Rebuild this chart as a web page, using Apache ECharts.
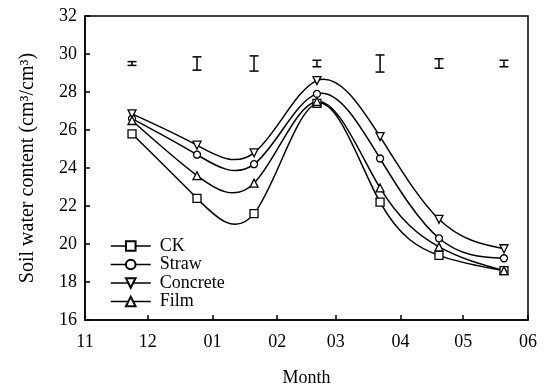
<!DOCTYPE html>
<html>
<head>
<meta charset="utf-8">
<script src="https://cdn.jsdelivr.net/npm/echarts@6/dist/echarts.min.js"></script>
<style>html,body{margin:0;padding:0;background:#fff;}#c{width:547px;height:392px;}</style>
</head>
<body>
<div id="c"></div>
<script>
// Days counted from 1 November
var sampleDays = [22.5, 53.6, 80.9, 111.0, 141.2, 169.4, 200.5];
var monthTickDays = [0, 30, 61, 92, 120, 151, 181, 212];
var monthLabels = ['11', '12', '01', '02', '03', '04', '05', '06'];

var ck       = [25.8, 22.4, 21.6, 27.4, 22.2, 19.4, 18.6];
var straw    = [26.6, 24.7, 24.2, 27.9, 24.5, 20.3, 19.25];
var concrete = [26.85, 25.2, 24.8, 28.6, 25.65, 21.3, 19.75];
var film     = [26.5, 23.6, 23.2, 27.5, 22.95, 19.85, 18.6];

var errMean = [29.5, 29.5, 29.5, 29.5, 29.5, 29.5, 29.5];
var errHalf = [0.1, 0.35, 0.4, 0.17, 0.45, 0.25, 0.17];

var FONT = '"Liberation Serif", "Times New Roman", serif';

function pairs(vals) {
  return vals.map(function (v, i) { return [sampleDays[i], v]; });
}

// natural cubic spline slopes (data units) at each knot
function splineSlopes(xs, ys) {
  var n = xs.length, h = [], i;
  for (i = 0; i < n - 1; i++) h.push(xs[i + 1] - xs[i]);
  var a = [], b = [], c = [], d = [];
  for (i = 0; i < n; i++) {
    if (i === 0 || i === n - 1) { a.push(0); b.push(1); c.push(0); d.push(0); }
    else {
      a.push(h[i - 1]); b.push(2 * (h[i - 1] + h[i])); c.push(h[i]);
      d.push(6 * ((ys[i + 1] - ys[i]) / h[i] - (ys[i] - ys[i - 1]) / h[i - 1]));
    }
  }
  for (i = 1; i < n; i++) {
    var w = a[i] / b[i - 1];
    b[i] -= w * c[i - 1];
    d[i] -= w * d[i - 1];
  }
  var M = new Array(n);
  M[n - 1] = d[n - 1] / b[n - 1];
  for (i = n - 2; i >= 0; i--) M[i] = (d[i] - c[i] * M[i + 1]) / b[i];
  var m = [];
  for (i = 0; i < n - 1; i++) m.push((ys[i + 1] - ys[i]) / h[i] - h[i] * (2 * M[i] + M[i + 1]) / 6);
  m.push((ys[n - 1] - ys[n - 2]) / h[n - 2] + h[n - 2] * (M[n - 2] + 2 * M[n - 1]) / 6);
  return m;
}

function curveSeries(vals) {
  var slopes = splineSlopes(sampleDays, vals);
  return {
    type: 'custom',
    data: pairs(vals),
    silent: true,
    z: 2,
    renderItem: function (params, api) {
      var i = params.dataIndex;
      if (i >= vals.length - 1) return null;
      var x0 = sampleDays[i], y0 = vals[i], x1 = sampleDays[i + 1], y1 = vals[i + 1];
      var h = (x1 - x0) / 3;
      var p0 = api.coord([x0, y0]);
      var c1 = api.coord([x0 + h, y0 + slopes[i] * h]);
      var c2 = api.coord([x1 - h, y1 - slopes[i + 1] * h]);
      var p1 = api.coord([x1, y1]);
      return {
        type: 'bezierCurve',
        shape: { x1: p0[0], y1: p0[1], x2: p1[0], y2: p1[1], cpx1: c1[0], cpy1: c1[1], cpx2: c2[0], cpy2: c2[1] },
        style: { stroke: '#000', lineWidth: 1.5, fill: null }
      };
    }
  };
}

var errData = errMean.map(function (m, i) { return [sampleDays[i], m, errHalf[i]]; });

function markerSeries(name, vals, symbol, rotate) {
  return {
    name: name,
    type: 'line',
    data: pairs(vals),
    symbol: symbol,
    symbolSize: symbol === 'circle' ? 7 : 8,
    symbolRotate: rotate || 0,
    showAllSymbol: true,
    lineStyle: { color: '#000', width: 1.5, opacity: 0 },
    itemStyle: { color: '#fff', borderColor: '#000', borderWidth: 1.3 },
    z: 3
  };
}

var chart = echarts.init(document.getElementById('c'));
chart.setOption({
  animation: false,
  backgroundColor: '#fff',
  grid: { left: 85, right: 19, top: 16, bottom: 68, show: true, borderColor: '#000', borderWidth: 1.5, backgroundColor: 'transparent' },
  legend: {
    orient: 'vertical',
    left: 105,
    top: 232,
    itemWidth: 40,
    itemHeight: 12,
    itemGap: 0.5,
    data: ['CK', 'Straw', 'Concrete', 'Film'],
    lineStyle: { color: '#000', width: 1.5, opacity: 1 },
    textStyle: { fontFamily: FONT, fontSize: 18, color: '#000', padding: [0, 0, 0, 4] }
  },
  xAxis: {
    type: 'value',
    min: 0, max: 212,
    name: 'Month',
    nameLocation: 'middle',
    nameGap: 49,
    nameTextStyle: { fontFamily: FONT, fontSize: 18, color: '#000' },
    axisLine: { lineStyle: { color: '#000', width: 1.5 } },
    axisTick: { inside: true, length: 5, lineStyle: { color: '#000', width: 1.5 }, customValues: monthTickDays },
    axisLabel: {
      customValues: monthTickDays,
      fontFamily: FONT, fontSize: 18, color: '#000', margin: 13,
      formatter: function (v) { var i = monthTickDays.indexOf(v); return i >= 0 ? monthLabels[i] : ''; }
    },
    splitLine: { show: false }
  },
  yAxis: {
    type: 'value',
    min: 16, max: 32, interval: 2,
    name: 'Soil water content (cm\u00b3/cm\u00b3)',
    nameLocation: 'middle',
    nameGap: 47,
    nameTextStyle: { fontFamily: FONT, fontSize: 20, color: '#000' },
    axisLine: { lineStyle: { color: '#000', width: 1.5 } },
    axisTick: { inside: true, length: 5, lineStyle: { color: '#000', width: 1.5 } },
    axisLabel: { fontFamily: FONT, fontSize: 18, color: '#000', margin: 8 },
    splitLine: { show: false }
  },
  series: [
    curveSeries(ck),
    curveSeries(straw),
    curveSeries(concrete),
    curveSeries(film),
    markerSeries('CK', ck, 'rect'),
    markerSeries('Straw', straw, 'circle'),
    markerSeries('Concrete', concrete, 'triangle', 180),
    markerSeries('Film', film, 'triangle'),
    {
      name: 'LSD',
      type: 'custom',
      data: errData,
      renderItem: function (params, api) {
        var x = api.value(0), m = api.value(1), h = api.value(2);
        var top = api.coord([x, m + h]);
        var bot = api.coord([x, m - h]);
        var w = 4.5;
        var st = { stroke: '#000', lineWidth: 1.5 };
        return {
          type: 'group',
          children: [
            { type: 'line', shape: { x1: top[0], y1: top[1], x2: bot[0], y2: bot[1] }, style: st },
            { type: 'line', shape: { x1: top[0] - w, y1: top[1], x2: top[0] + w, y2: top[1] }, style: st },
            { type: 'line', shape: { x1: bot[0] - w, y1: bot[1], x2: bot[0] + w, y2: bot[1] }, style: st }
          ]
        };
      },
      z: 4
    }
  ]
});
</script>
</body>
</html>
